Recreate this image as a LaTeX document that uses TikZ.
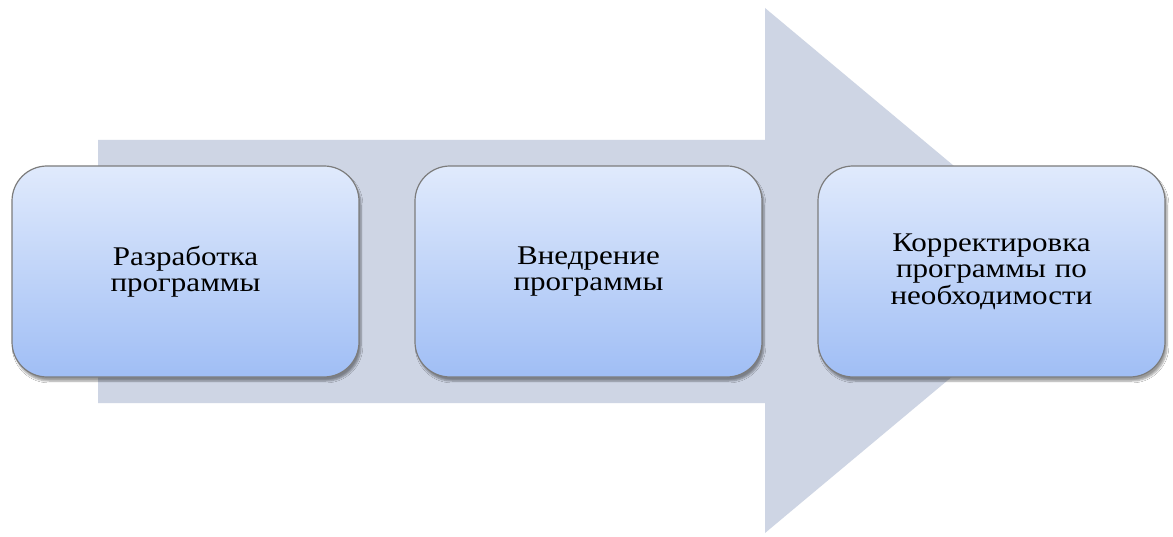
\documentclass[tikz,border=0pt]{standalone}
\usepackage{fontspec}
\setmainfont{Liberation Serif}[FakeStretch=1.15]
\usetikzlibrary{shadows.blur}
\definecolor{arrowgray}{HTML}{CED5E4}
\definecolor{boxtop}{HTML}{E0EAFC}
\definecolor{boxbot}{HTML}{A0BEF5}
\definecolor{boxline}{HTML}{7C7C7C}
\tikzset{
  stage/.style={draw=boxline, line width=1.2pt, rounded corners=35pt,
    top color=boxtop, bottom color=boxbot,
    minimum width=347pt, minimum height=211pt, inner sep=0pt,
    align=center, text width=300pt,
    font=\fontsize{27pt}{26.5pt}\selectfont,
    blur shadow={shadow xshift=2pt, shadow yshift=-4pt, shadow blur steps=6, shadow opacity=40}},
  bigarrow/.style={fill=arrowgray, draw=none}
}
\begin{document}
\begin{tikzpicture}[x=1pt,y=-1pt]
\useasboundingbox (0,0) rectangle (1173,537);
\fill[white] (0,0) rectangle (1173,537);
\path[bigarrow] (98,140) -- (765,140) -- (765,8) -- (1079,270.5) -- (765,533) -- (765,403) -- (98,403) -- cycle;
\node[stage] (s1) at (185.5,271.5) {Разработка\\программы};
\node[stage] (s2) at (588.5,271.5) {Внедрение\\программы};
\node[stage] (s3) at (991.5,271.5) {Корректировка\\программы по\\необходимости};
\end{tikzpicture}
\end{document}
